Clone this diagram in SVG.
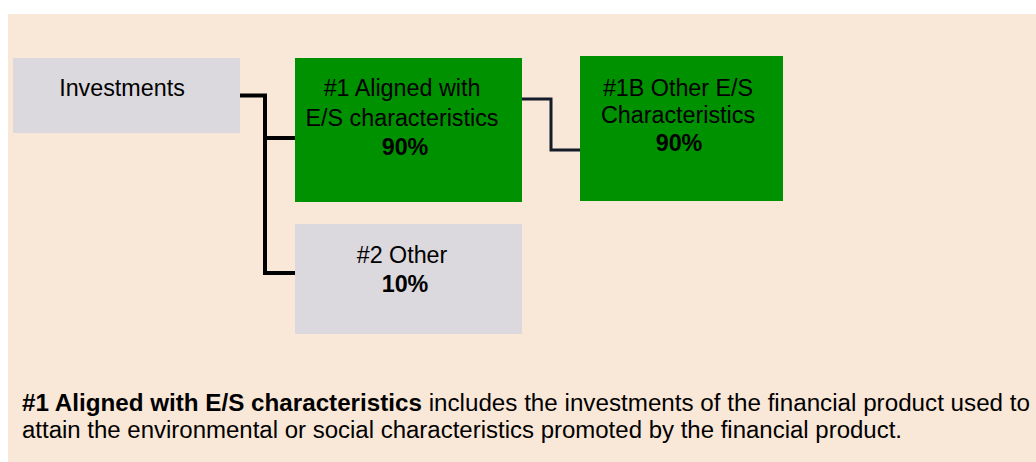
<svg xmlns="http://www.w3.org/2000/svg" width="1036" height="462" viewBox="0 0 1036 462">
<style>
.t{font-family:"Liberation Sans",Arial,sans-serif;font-size:23.3px;fill:#000;}
.n{font-size:23px;}
.c{text-anchor:middle;}
.b{font-weight:bold;}
.grey{fill:#dbd8de;}
.green{fill:#009100;}
.conn{fill:none;stroke-linejoin:miter;stroke-linecap:butt;}
</style>
<rect x="0" y="0" width="1036" height="462" fill="#ffffff"/>
<rect x="8" y="14" width="1028" height="448" fill="#f9e7d7"/>
<g id="investments">
<rect class="grey" x="13" y="58" width="227" height="75"/>
<text class="t c" x="122" y="96">Investments</text>
</g>
<g id="aligned">
<rect class="green" x="295" y="58" width="227" height="144"/>
<text class="t c" x="402" y="96">#1 Aligned with</text>
<text class="t c" x="402" y="125.5">E/S characteristics</text>
<text class="t c b" x="405" y="155">90%</text>
</g>
<g id="other-es">
<rect class="green" x="580" y="56" width="203" height="145"/>
<text class="t c" x="678" y="95.5">#1B Other E/S</text>
<text class="t c" x="678" y="123">Characteristics</text>
<text class="t c b" x="679" y="151">90%</text>
</g>
<g id="other">
<rect class="grey" x="295" y="224" width="227" height="110"/>
<text class="t c" x="402" y="263">#2 Other</text>
<text class="t c b" x="405" y="292">10%</text>
</g>
<g id="connectors">
<path class="conn" d="M240 95.5 H265 V273 H295" stroke="#000" stroke-width="4"/>
<path class="conn" d="M265 138 H295" stroke="#000" stroke-width="4"/>
<path class="conn" d="M522 99 H551 V150 H580" stroke="#141c2a" stroke-width="3"/>
</g>
<g id="note">
<text class="t n" x="22" y="411" textLength="1008" lengthAdjust="spacingAndGlyphs"><tspan class="b">#1 Aligned with E/S characteristics</tspan> includes the investments of the financial product used to</text>
<text class="t n" x="22" y="437.5" textLength="880" lengthAdjust="spacingAndGlyphs">attain the environmental or social characteristics promoted by the financial product.</text>
</g>
</svg>
